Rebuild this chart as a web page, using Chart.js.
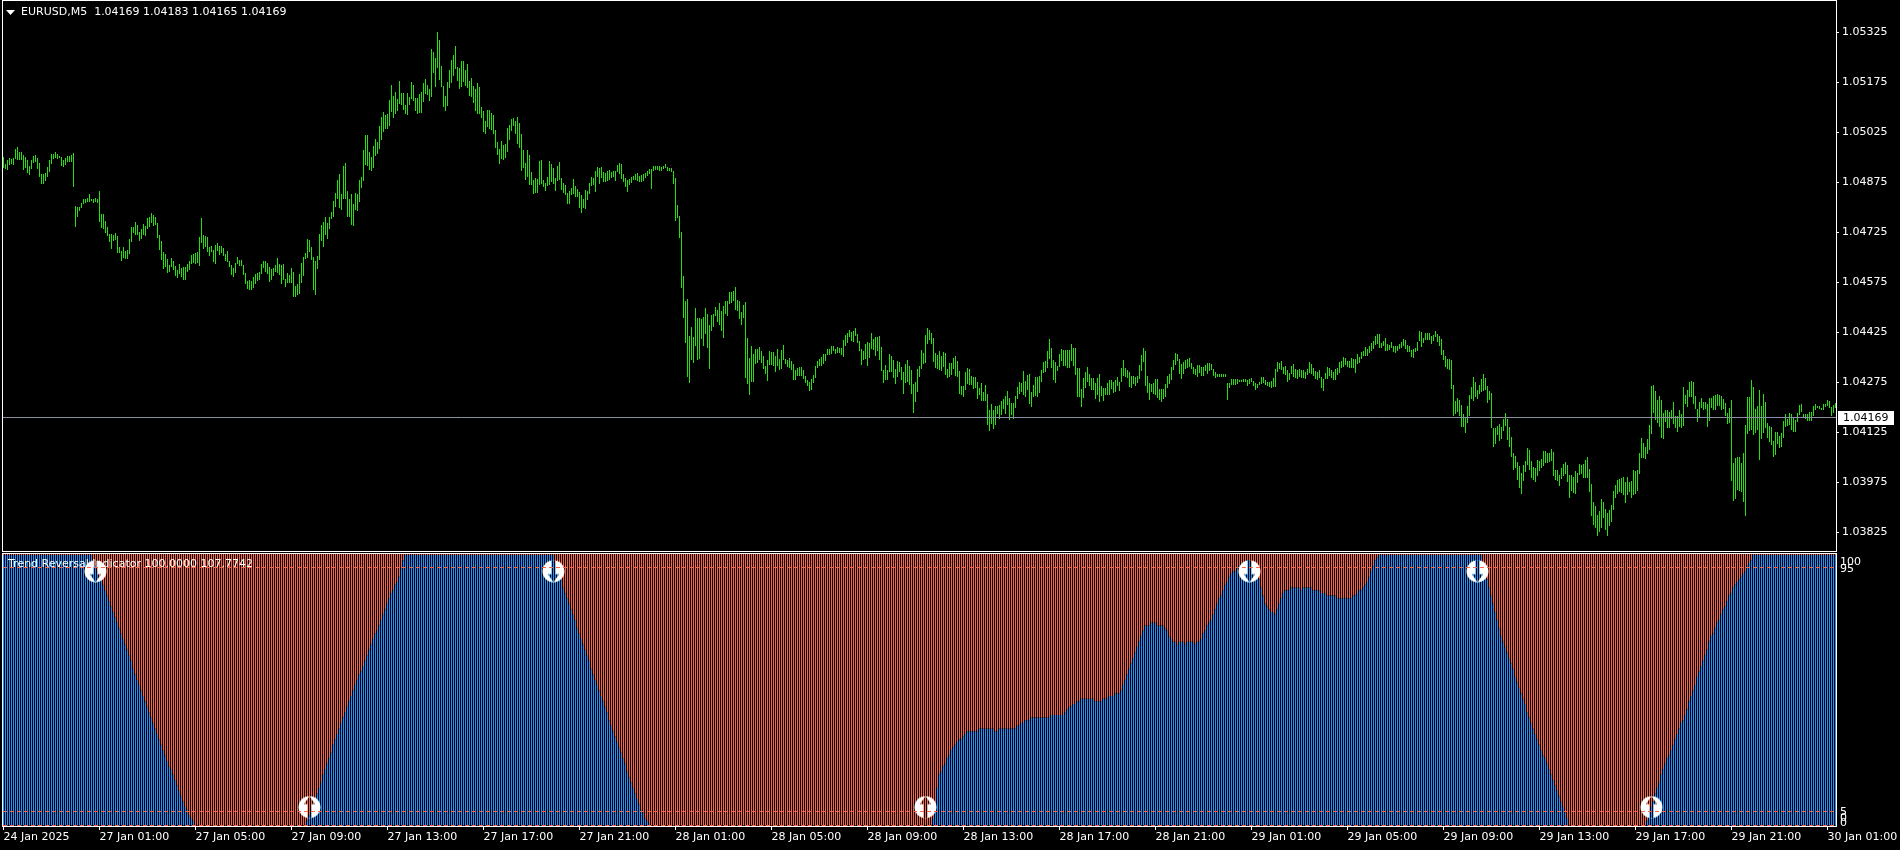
<!DOCTYPE html>
<html><head><meta charset="utf-8">
<style>
html,body{margin:0;padding:0;background:#000;width:1900px;height:850px;overflow:hidden}
#pw{position:absolute;left:0;top:0;width:1900px;height:552px}
#iw{position:absolute;left:0;top:552px;width:1900px;height:298px}
canvas{display:block}
</style>
<script src="https://cdn.jsdelivr.net/npm/chart.js@4/dist/chart.umd.min.js"></script>
</head><body>
<div id="pw"><canvas id="price" width="1900" height="552"></canvas></div>
<div id="iw"><canvas id="ind" width="1900" height="298"></canvas></div>
<script>
// ---- values; prices are kept in steps of 0.00003 above PRICE_BASE
const PRICE_BASE = 1.038265, PRICE_STEP = 0.00003;
const symbolText = "EURUSD,M5  1.04169 1.04183 1.04165 1.04169";
const indicatorText = "Trend Reversal Indicator 100.0000 107.7742";
const lastPrice = 1.04169;
const priceTicks = [1.03825,1.03975,1.04125,1.04275,1.04425,1.04575,1.04725,1.04875,1.05025,1.05175,1.05325];
const indicatorTicks = [100,95,5,0,0];
const levelValues = [95,5,0];
const timeTickBars = [0,48,96,144,192,240,288,336,384,432,480,528,576,624,672,720,768,816,864,912];
const timeTickLabels = ["24 Jan 2025","27 Jan 01:00","27 Jan 05:00","27 Jan 09:00","27 Jan 13:00","27 Jan 17:00","27 Jan 21:00","28 Jan 01:00","28 Jan 05:00","28 Jan 09:00","28 Jan 13:00","28 Jan 17:00","28 Jan 21:00","29 Jan 01:00","29 Jan 05:00","29 Jan 09:00","29 Jan 13:00","29 Jan 17:00","29 Jan 21:00","30 Jan 01:00"];
const upSignalBars = [153,461,824], upSignalValue = 7;
const downSignalBars = [46,275,623,737], downSignalValue = 94;

const highsA = [375,368,372,374,373,374,383,385,380,380,377,375,372,366,372,376,377,374,369,358,358,359,365,372,378,378,380,378,376,375,372,374,376,376,377,379,
326,325,325,329,333,333,334,338,333,333,334,333,341,318,318,311,305,298,298,297,299,296,285,281,285,281,282,293,305,305,310,307,300,303,308,306,314,315,319,317,315,309,297,291,280,278,273,267,274,271,266,262,268,264,265,265,268,271,277,278,279,280,295,314,297,296,295,285,286,282,287,289,286,286,284,278,281,271,267,264,269,275,272,272,267,259,251,252,251,255,258,259,260,268,271,271,269,265,263,264,267,274,268,267,268,253,259,257,264,260,246,248,258,269,275,279,293,292,285,275,271,276,298,307,310,315,309,315,320,331,339,352,358,338,366,369,341,333,338,328,339,338,352,355,382,397,397,380];
const lowsA = [364,363,362,367,368,367,373,372,372,372,362,364,359,357,363,369,370,363,355,348,348,351,355,360,368,373,374,373,374,366,365,367,370,370,370,345,
305,315,321,324,328,329,330,330,331,329,330,329,310,304,303,299,296,290,283,291,292,279,279,271,274,273,273,278,290,299,297,297,291,293,297,296,303,305,309,306,307,294,282,272,263,265,259,260,265,262,256,254,258,255,252,252,260,262,268,269,268,269,266,289,283,285,280,276,280,270,268,281,277,279,276,271,270,265,257,255,259,268,266,266,257,248,243,242,242,244,248,251,252,258,264,260,258,250,252,256,260,259,257,248,252,245,249,249,249,235,235,237,238,249,256,273,274,280,272,242,237,263,272,291,285,297,293,303,313,315,325,333,324,322,333,333,315,315,307,306,322,321,330,344,351,367,366,362];
const highsB = [375,386,393,390,406,415,420,417,418,432,447,436,440,433,451,439,439,427,439,435,450,447,434,434,438,440,449,453,447,443,483,480,474,500,492,466,446,436,450,462,472,477,486,465,464,471,471,462,468,451,454,446,443,449,445,425,421,411,422,422,419,417,402,390,383,391,387,388,404,407,413,414,411,415,409,398,382,369,382,377,360,352,354,353,371,372,352,349,355,371,368,364,354,366,370,354,349,347,339,341,344,353,346,343,340,337,333,342,341,349,355,354,361,365,364,365,360,359,361,362,360,361,361,367,369,368,358,354,352,353,355,356,358,359,356,357,358,359,361,363,363,366,366,366,366,365,366,368,365,364,364,361,354,327,316,300,256,231,233,196,205,195,224,214,214,213,215,224,218,207,217,218,225,222,229,221,226,231,231,240,240,241,245,232,231];
const lowsB = [361,364,376,378,383,392,400,403,403,406,420,414,418,421,428,427,422,418,417,427,433,431,421,418,419,419,430,438,437,431,435,459,445,464,452,445,425,421,426,444,449,456,463,451,443,445,450,446,444,436,435,429,421,418,418,414,400,398,405,403,402,398,384,377,368,373,372,374,380,392,401,406,398,388,384,361,364,352,355,347,347,338,339,339,347,348,345,341,346,347,350,348,341,351,352,342,339,337,328,328,337,338,335,335,324,319,324,323,332,338,346,347,340,355,348,354,350,350,351,352,354,355,351,360,358,353,350,345,340,347,349,352,352,351,350,350,351,354,356,358,343,361,362,362,361,361,363,364,361,361,360,348,311,314,294,244,214,189,155,149,172,169,186,172,173,193,186,198,184,163,201,205,216,210,207,201,194,218,216,228,229,231,222,221,213];
const highsC = [220,227,230,194,174,186,178,183,183,185,181,176,166,172,181,180,180,176,183,173,182,187,173,172,174,171,168,162,164,165,165,162,156,152,150,153,157,166,171,173,175,178,178,183,183,186,186,183,185,184,184,192,197,199,202,200,201,204,198,191,183,181,188,190,189,199,193,195,195,196,185,162,167,162,178,176,172,163,171,170,165,160,168,172,166,162,148,150,163,166,182,179,197,204,202,199,194,179,177,181,176,180,179,163,169,169,174,176,171,161,146,146,160,164,163,156,155,155,150,144,149,140,147,138,122,128,122,126,126,127,131,133,136,141,134,129,129,136,145,150,149,161,151,157,158,140,147,155,155,156,162,170,171,181,193,184,172,170,166,178,183,182,182,182,182,188,184,184,164,164,143,154,160,165,158,154,154,149,154,158,146,144,144,149,152];
const lowsC = [207,214,154,148,137,150,150,168,169,172,169,163,158,151,167,167,166,160,166,162,163,172,168,165,164,162,152,152,156,156,156,153,149,146,141,142,149,154,164,166,166,168,171,177,177,178,181,178,179,179,177,175,186,189,195,191,190,196,189,181,167,172,173,166,174,183,182,176,181,172,161,149,152,152,160,160,154,148,155,160,152,138,149,150,147,138,119,130,140,155,163,168,169,188,192,188,170,164,163,162,161,165,157,154,155,157,163,156,155,138,137,135,142,148,147,147,143,144,133,137,131,131,131,107,101,108,103,107,118,113,117,123,118,127,112,117,113,124,133,138,140,137,135,142,128,125,135,136,135,139,150,159,160,164,173,164,152,149,161,165,171,166,166,164,164,171,166,157,135,135,125,134,144,150,146,142,142,133,137,130,136,131,137,137,137];
const highsD = [152,150,152,155,150,164,172,164,162,160,156,156,155,156,167,177,184,181,156,149,148,149,153,153,143,143,143,148,156,158,165,172,179,178,173,168,170,172,173,174,169,165,163,167,167,165,165,167,169,169,168,163,160,158,158,158,158,158,149,149,153,153,153,153,152,152,153,153,152,153,154,151,149,148,150,155,155,152,150,150,151,154,163,170,169,171,165,166,162,159,166,168,163,162,163,162,162,160,163,170,168,164,161,160,162,155,153,159,165,164,162,160,163,164,170,171,175,174,171,171,174,173,173,178,175,180,181,185,183,186,189,191,196,198,198,189,191,194,188,187,190,186,186,186,188,190,193,192,187,186,182,183,184,190,201,200,194,199,199,199,196,197,201,198,196,193,182,176,173,173,172,147,131,134,132,127,118,114,126,137,145,155,150,142,147];
const lowsD = [143,139,140,146,141,150,156,155,154,145,144,148,146,149,153,161,170,146,139,132,140,138,137,134,132,130,133,135,144,148,152,162,167,171,158,153,158,163,164,165,163,158,157,155,159,156,156,161,158,161,162,156,154,155,155,155,155,155,132,144,147,147,147,148,150,150,150,150,146,148,150,146,142,144,147,148,149,147,146,145,144,145,145,160,163,162,158,157,150,152,158,155,154,153,155,154,154,153,157,159,158,156,153,152,154,144,141,153,153,156,154,152,152,157,159,164,165,167,165,164,164,164,159,168,169,173,176,176,176,179,181,183,187,188,184,184,186,181,181,182,184,180,179,181,183,184,186,183,180,180,175,174,180,181,191,185,189,192,192,192,188,191,195,190,186,177,172,165,163,162,143,116,118,120,116,105,105,99,109,116,133,131,135,133,138];
const highsE = [153,158,154,146,141,139,104,104,106,108,105,113,119,113,105,95,79,76,70,66,59,67,71,84,82,71,65,64,72,71,73,81,81,79,79,83,80,62,62,57,64,68,70,67,57,57,55,61,59,68,67,68,72,75,63,48,30,26,17,21,33,30,23,19,22,27,41,47,52,53,54,55,50,55,50,51,62,61,62,79,94,89,85,93,107,146,147,141,132,136,132,119,122,122,120,122,130,116,116,122,118,145,137,142,150,151,150,136,123,130,134,130,130,128,134,134,136,137,138,137,136,133,129,119,124,132,69,74,75,75,69,79,107,135,135,152,145,123,126,142,126,138,130,109,106,105,91,100,100,96,99,111,118,113,119,118,115,112,119,127,128,118,118,118,120,120,126,128,126,126,124,128,128,132,131,125,127,129];
const lowsE = [140,141,142,129,132,104,85,88,97,91,93,101,106,92,85,75,62,64,52,44,38,51,60,67,62,54,52,50,56,61,64,66,69,69,70,71,56,52,51,46,53,56,58,50,34,41,39,38,49,57,58,54,54,54,40,16,7,4,-4,0,4,14,2,-4,6,10,22,34,38,40,39,37,29,37,40,34,37,38,41,58,74,74,73,78,82,98,119,112,109,105,94,93,110,104,104,113,108,104,100,105,104,106,128,125,135,135,128,123,110,114,124,122,123,105,111,124,122,122,126,126,122,123,116,108,109,51,31,33,42,41,40,30,16,98,101,102,97,99,102,72,93,99,104,94,90,87,75,77,88,84,85,94,105,106,107,102,100,100,110,117,120,114,113,111,111,111,116,122,124,123,122,122,125,126,124,116,119,124];

const trendValues = [
100,100,100,100,100,100,100,100,100,100,
100,100,100,100,100,100,100,100,100,100,
100,100,100,100,100,100,100,100,100,100,
100,100,100,100,100,100,100,100,100,100,
100,100,100,100,100,98,96,94,92,91,
89,87,85,83,81,79,77,75,73,71,
69,67,65,63,61,58,56,54,52,50,
48,46,44,42,40,38,36,34,32,30,
28,26,24,22,21,19,17,15,13,11,
9,7,6,4,3,2,0,0,0,0,
0,0,0,0,0,0,0,0,0,0,
0,0,0,0,0,0,0,0,0,0,
0,0,0,0,0,0,0,0,0,0,
0,0,0,0,0,0,0,0,0,0,
0,0,0,0,0,0,0,0,0,0,
0,0,2,4,6,8,10,12,14,16,
19,21,23,25,27,30,32,34,36,38,
40,42,44,46,48,50,52,54,56,57,
59,61,63,65,67,69,71,72,74,76,
78,80,82,84,86,87,89,90,92,95,
98,100,100,100,100,100,100,100,100,100,
100,100,100,100,100,100,100,100,100,100,
100,100,100,100,100,100,100,100,100,100,
100,100,100,100,100,100,100,100,100,100,
100,100,100,100,100,100,100,100,100,100,
100,100,100,100,100,100,100,100,100,100,
100,100,100,100,100,100,100,100,100,100,
100,100,100,100,100,100,97,95,93,91,
88,86,84,82,80,78,76,73,71,69,
67,65,63,61,58,56,54,52,50,48,
46,44,42,39,37,35,33,31,29,27,
25,23,20,18,16,14,12,10,8,6,
5,3,2,1,0,0,0,0,0,0,
0,0,0,0,0,0,0,0,0,0,
0,0,0,0,0,0,0,0,0,0,
0,0,0,0,0,0,0,0,0,0,
0,0,0,0,0,0,0,0,0,0,
0,0,0,0,0,0,0,0,0,0,
0,0,0,0,0,0,0,0,0,0,
0,0,0,0,0,0,0,0,0,0,
0,0,0,0,0,0,0,0,0,0,
0,0,0,0,0,0,0,0,0,0,
0,0,0,0,0,0,0,0,0,0,
0,0,0,0,0,0,0,0,0,0,
0,0,0,0,0,0,0,0,0,0,
0,0,0,0,0,0,0,0,0,0,
0,0,0,0,0,3,8,14,19,20,
22,23,25,26,28,29,30,31,32,32,
33,34,35,35,35,35,35,35,36,36,
36,36,36,36,36,36,35,35,36,36,
36,36,36,36,36,36,36,37,37,38,
38,39,39,39,40,40,40,40,40,40,
40,40,40,40,41,41,41,41,41,41,
41,42,43,44,44,45,45,46,46,47,
47,47,47,47,47,47,46,46,46,46,
47,47,47,48,48,48,49,49,49,50,
52,54,56,58,60,62,64,66,68,70,
72,74,74,74,75,75,75,74,74,74,
74,73,72,70,69,68,68,67,68,68,
68,67,68,68,68,68,67,68,68,69,
71,72,74,75,76,78,80,82,84,85,
87,89,90,92,93,94,94,95,96,96,
97,97,98,98,97,96,95,94,91,88,
85,82,81,80,79,79,78,80,82,84,
86,87,87,87,88,88,88,88,88,87,
88,88,88,88,88,87,87,87,87,86,
86,86,85,85,85,85,85,84,84,84,
84,84,84,84,84,85,85,86,87,87,
88,89,90,92,94,96,98,99,100,100,
100,100,100,100,100,100,100,100,100,100,
100,100,100,100,100,100,100,100,100,100,
100,100,100,100,100,100,100,100,100,100,
100,100,100,100,100,100,100,100,100,100,
100,100,100,100,100,100,100,100,100,100,
97,94,91,88,85,82,79,76,73,70,
68,66,64,62,60,58,55,53,51,49,
47,45,42,40,38,36,34,32,30,28,
26,25,23,21,19,17,15,13,11,9,
7,5,3,0,0,0,0,0,0,0,
0,0,0,0,0,0,0,0,0,0,
0,0,0,0,0,0,0,0,0,0,
0,0,0,0,0,0,0,0,0,0,
0,0,2,5,7,9,12,14,16,19,
21,23,25,26,28,30,32,34,36,38,
39,41,43,46,48,50,52,55,57,59,
61,63,65,68,70,71,73,75,76,78,
80,81,83,85,86,88,89,90,91,92,
93,94,96,97,98,100,100,100,100,100,
100,100,100,100,100,100,100,100,100,100,
100,100,100,100,100,100,100,100,100,100,
100,100,100,100,100,100,100,100,100,100,
100,100,100,100,100,100,100];

// ---- drawing
const highSteps = [...highsA,...highsB,...highsC,...highsD,...highsE];
const lowSteps = [...lowsA,...lowsB,...lowsC,...lowsD,...lowsE];
const toPrice = v => PRICE_BASE + v*PRICE_STEP;
const FONT = {family:"'DejaVu Sans'", size:11};
const FONTSTR = "11px 'DejaVu Sans'";
const GREEN='#28e010', BLUE='#1e90ff', RED='#ff6347', WHITE='#ffffff';
const X_MIN=-0.25, X_MAX=916.25;
const TOP_CLIP=100.6;
Chart.defaults.animation=false;
Chart.defaults.font.family=FONT.family;
Chart.defaults.font.size=FONT.size;

const priceBars = highSteps.map((h,i)=>({x:i,y:[toPrice(lowSteps[i]),toPrice(h)]}));
const blueBars = trendValues.map((v,i)=>({x:i,y:[0,v>=100?TOP_CLIP:v]}));
const redBars = trendValues.map((v,i)=>({x:i,y:[v,TOP_CLIP]}));

const priceDecor = {
  id:'priceDecor',
  afterDatasetsDraw(c){
    const g=c.ctx,a=c.chartArea,y=Math.floor(c.scales.y.getPixelForValue(lastPrice))+.5;
    g.save();g.strokeStyle='#8a90a0';g.lineWidth=1;g.beginPath();g.moveTo(a.left,y);g.lineTo(a.right,y);g.stroke();g.restore();
  },
  afterDraw(c){
    const g=c.ctx,a=c.chartArea;
    g.save();
    g.strokeStyle=WHITE;g.lineWidth=1;g.strokeRect(a.left-.5,a.top-.5,a.right-a.left+1,a.bottom-a.top+1);
    const y=c.scales.y.getPixelForValue(lastPrice);
    g.fillStyle=WHITE;g.fillRect(a.right+2,Math.round(y)-7,56,14);
    g.fillStyle='#000';g.font=FONTSTR;g.textBaseline='middle';g.textAlign='left';g.fillText(lastPrice.toFixed(5),a.right+7,Math.round(y));
    g.fillStyle=WHITE;g.fillText(symbolText,21,12);
    g.beginPath();g.moveTo(6,10);g.lineTo(15,10);g.lineTo(10.5,15);g.closePath();g.fill();
    g.restore();
  }
};
const labelNudges=[7,0.5,0,-8,-3];
const indDecor = {
  id:'indDecor',
  beforeDraw(c){
    const items=c.scales.y.getLabelItems(c.chartArea);
    if(!items._nudged){items.forEach((it,k)=>{it.options.translation[1]+=labelNudges[k]||0});items._nudged=true;}
  },
  afterDatasetDraw(c,args){
    if(args.index!==1) return;
    const g=c.ctx;g.save();g.fillStyle=WHITE;g.font=FONTSTR;g.textBaseline='middle';g.textAlign='left';
    g.fillText(indicatorText,c.chartArea.left+5,c.chartArea.top+10.5);g.restore();
  },
  afterDatasetsDraw(c){
    const g=c.ctx,a=c.chartArea;g.save();g.strokeStyle=RED;g.lineWidth=1;g.setLineDash([4,3]);
    levelValues.forEach(v=>{const y=Math.floor(c.scales.y.getPixelForValue(v)-.5)+.5;g.beginPath();g.moveTo(a.left,y);g.lineTo(a.right,y);g.stroke();});
    g.restore();
  },
  afterDraw(c){
    const g=c.ctx,a=c.chartArea;g.save();
    g.fillStyle='#000';g.fillRect(a.right+1,a.bottom,63,5);
    g.strokeStyle=WHITE;g.lineWidth=1;g.strokeRect(a.left-.5,a.top-.5,a.right-a.left+1,a.bottom-a.top+1);
    g.restore();
  }
};
function signalIcon(up){
  const n=23,cv=document.createElement('canvas');cv.width=n;cv.height=n;
  const g=cv.getContext('2d');g.fillStyle='#fff';g.beginPath();g.arc(n/2,n/2,11,0,Math.PI*2);g.fill();
  g.globalCompositeOperation='destination-out';g.translate(n/2,n/2);if(!up)g.rotate(Math.PI);
  g.beginPath();g.moveTo(0,-11);g.lineTo(5.5,-3);g.lineTo(2,-3);g.lineTo(2,11);g.lineTo(-2,11);g.lineTo(-2,-3);g.lineTo(-5.5,-3);g.closePath();g.fill();
  return cv;
}
new Chart(document.getElementById('price'),{
  type:'bar',
  data:{datasets:[{data:priceBars,backgroundColor:GREEN,barThickness:1,borderWidth:0,borderSkipped:false,inflateAmount:0}]},
  plugins:[priceDecor],
  options:{
    responsive:false,maintainAspectRatio:false,devicePixelRatio:1,
    layout:{autoPadding:false,padding:{left:3,top:1,right:0,bottom:1}},
    plugins:{legend:{display:false},tooltip:{enabled:false},title:{display:false}},
    scales:{
      x:{type:'linear',display:false,offset:false,min:X_MIN,max:X_MAX},
      y:{type:'linear',position:'right',min:1.037695,max:1.054195,
        afterBuildTicks(s){s.ticks=priceTicks.map(v=>({value:v}));},
        afterFit(s){s.width=64;s.paddingTop=0;s.paddingBottom=0;},
        border:{display:false},
        grid:{drawOnChartArea:false,drawTicks:true,tickLength:3,color:WHITE},
        ticks:{color:WHITE,padding:3,autoSkip:false,font:FONT,callback:v=>Number(v).toFixed(5)}}
    }
  }
});
new Chart(document.getElementById('ind'),{
  type:'bar',
  data:{datasets:[
    {data:blueBars,backgroundColor:BLUE,barThickness:1,borderWidth:0,borderSkipped:false,inflateAmount:0,order:3,stack:'trend'},
    {data:redBars,backgroundColor:RED,barThickness:1,borderWidth:0,borderSkipped:false,inflateAmount:0,order:2,stack:'trend'},
    {type:'line',data:upSignalBars.map(x=>({x,y:upSignalValue})),showLine:false,pointStyle:signalIcon(true),order:0},
    {type:'line',data:downSignalBars.map(x=>({x,y:downSignalValue})),showLine:false,pointStyle:signalIcon(false),order:0}
  ]},
  plugins:[indDecor],
  options:{
    responsive:false,maintainAspectRatio:false,devicePixelRatio:1,
    layout:{autoPadding:false,padding:{left:3,top:2,right:0,bottom:0}},
    plugins:{legend:{display:false},tooltip:{enabled:false},title:{display:false}},
    scales:{
      x:{type:'linear',position:'bottom',offset:false,min:X_MIN,max:X_MAX,
        afterBuildTicks(s){s.ticks=timeTickBars.map(v=>({value:v}));},
        afterFit(s){s.height=24;s.paddingLeft=0;s.paddingRight=0;},
        border:{display:false},
        grid:{offset:false,drawOnChartArea:false,drawTicks:true,tickLength:4,color:WHITE},
        ticks:{color:WHITE,padding:1,labelOffset:0,autoSkip:false,maxRotation:0,minRotation:0,align:'start',font:FONT,
          callback:v=>timeTickLabels[timeTickBars.indexOf(v)]||''}},
      y:{type:'linear',position:'right',stacked:false,min:0.02,max:100.348,
        afterBuildTicks(s){s.ticks=indicatorTicks.map(v=>({value:v}));},
        afterFit(s){s.width=64;s.paddingTop=0;s.paddingBottom=0;},
        border:{display:false},
        grid:{drawOnChartArea:false,drawTicks:false,tickLength:0},
        ticks:{color:WHITE,padding:4,autoSkip:false,font:FONT,callback:v=>String(v)}}
    }
  }
});
</script>
</body></html>
